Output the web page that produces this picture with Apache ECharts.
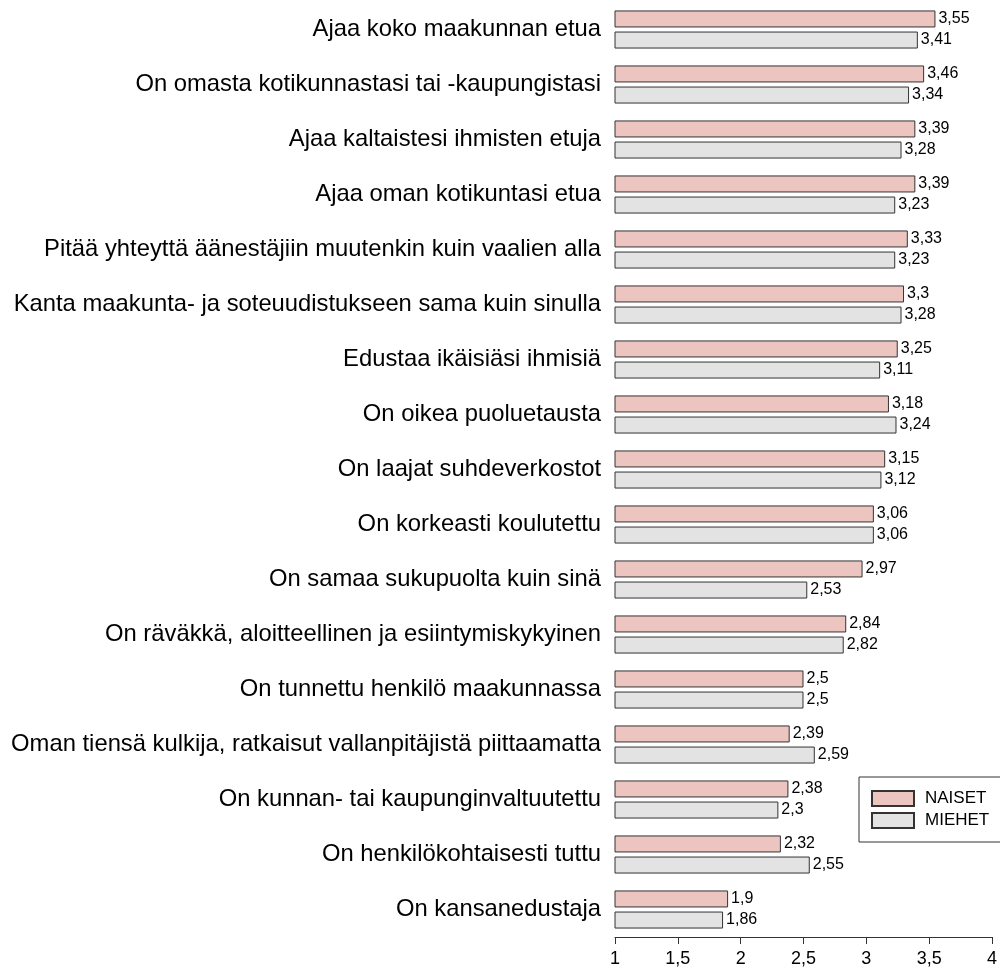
<!DOCTYPE html>
<html>
<head>
<meta charset="utf-8">
<script src="https://cdn.jsdelivr.net/npm/echarts@6/dist/echarts.min.js"></script>
<style>
html,body{margin:0;padding:0;background:#fff;}
#chart{width:1000px;height:968px;}
</style>
</head>
<body>
<div id="chart"></div>
<script>
const categories = [
  "Ajaa koko maakunnan etua",
  "On omasta kotikunnastasi tai -kaupungistasi",
  "Ajaa kaltaistesi ihmisten etuja",
  "Ajaa oman kotikuntasi etua",
  "Pitää yhteyttä äänestäjiin muutenkin kuin vaalien alla",
  "Kanta maakunta- ja soteuudistukseen sama kuin sinulla",
  "Edustaa ikäisiäsi ihmisiä",
  "On oikea puoluetausta",
  "On laajat suhdeverkostot",
  "On korkeasti koulutettu",
  "On samaa sukupuolta kuin sinä",
  "On räväkkä, aloitteellinen ja esiintymiskykyinen",
  "On tunnettu henkilö maakunnassa",
  "Oman tiensä kulkija, ratkaisut vallanpitäjistä piittaamatta",
  "On kunnan- tai kaupunginvaltuutettu",
  "On henkilökohtaisesti tuttu",
  "On kansanedustaja"
];
const naiset = [3.55, 3.46, 3.39, 3.39, 3.33, 3.3, 3.25, 3.18, 3.15, 3.06, 2.97, 2.84, 2.5, 2.39, 2.38, 2.32, 1.9];
const miehet = [3.41, 3.34, 3.28, 3.23, 3.23, 3.28, 3.11, 3.24, 3.12, 3.06, 2.53, 2.82, 2.5, 2.59, 2.3, 2.55, 1.86];
const seriesNames = ["NAISET", "MIEHET"];
const xTicks = { min: 1, max: 4, interval: 0.5 };

const FONT = "'Liberation Sans', Arial, sans-serif";
const fmt = v => String(v).replace('.', ',');

const chart = echarts.init(document.getElementById('chart'), null, { renderer: 'canvas' });
const barStyle = (color) => ({ color: color, borderColor: '#333', borderWidth: 1 });
const labelCfg = {
  show: true, position: 'right', distance: 3,
  fontFamily: FONT, fontSize: 16, color: '#000',
  formatter: p => fmt(p.value)
};
chart.setOption({
  animation: false,
  backgroundColor: '#fff',
  textStyle: { fontFamily: FONT },
  grid: { left: 615, right: 6, top: 2, bottom: 31, containLabel: false },
  legend: {
    orient: 'vertical', left: 859, top: 777,
    data: seriesNames,
    icon: 'rect', itemWidth: 42, itemHeight: 15, itemGap: 5,
    padding: [13, 20, 13, 12],
    borderColor: '#333', borderWidth: 1,
    textStyle: { fontFamily: FONT, fontSize: 17, color: '#000', padding: [0, 0, 0, 6] }
  },
  xAxis: {
    type: 'value', min: xTicks.min, max: xTicks.max, interval: xTicks.interval,
    axisLine: { show: true, lineStyle: { color: '#333', width: 1 } },
    axisTick: { show: true, length: 7, lineStyle: { color: '#333' } },
    splitLine: { show: false },
    axisLabel: { fontFamily: FONT, fontSize: 18, color: '#000', margin: 13, formatter: v => fmt(v) }
  },
  yAxis: {
    type: 'category', data: categories, inverse: true,
    axisLine: { show: false }, axisTick: { show: false },
    axisLabel: { fontFamily: FONT, fontSize: 23.8, color: '#000', margin: 14 }
  },
  series: [
    { name: seriesNames[0], type: 'bar', data: naiset, barWidth: 17, barGap: '24%',
      itemStyle: barStyle('#ecc5c1'), label: labelCfg },
    { name: seriesNames[1], type: 'bar', data: miehet, barWidth: 17, barGap: '24%',
      itemStyle: barStyle('#e3e3e3'), label: labelCfg }
  ]
});
</script>
</body>
</html>
